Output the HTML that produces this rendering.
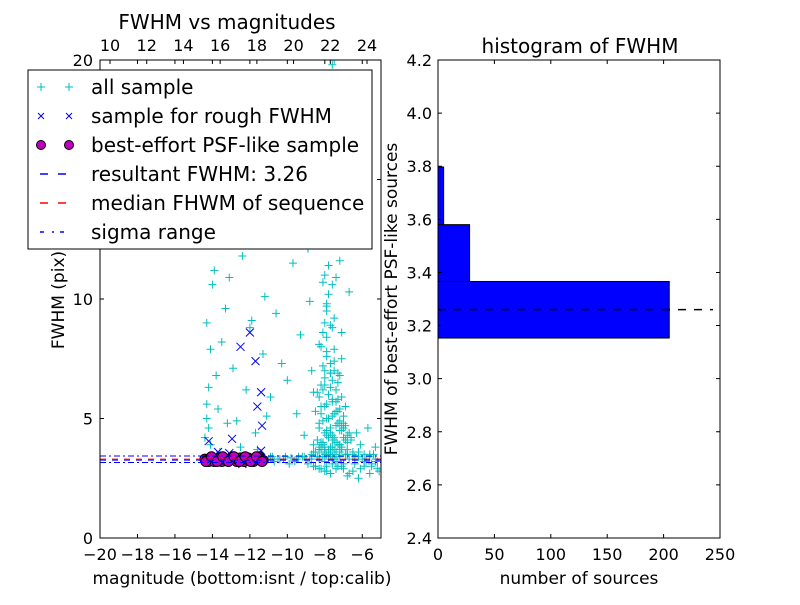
<!DOCTYPE html>
<html><head><meta charset="utf-8"><style>
html,body{margin:0;padding:0;background:#fff}
svg text{font-family:"DejaVu Sans","Liberation Sans",sans-serif;fill:#000}
</style></head><body>
<svg id="c" width="800" height="600" xmlns="http://www.w3.org/2000/svg">
<rect width="800" height="600" fill="#fff"/>
<g id="left"></g>
<g id="right"></g>
</svg>
<script>
// ---- left panel data ----
const allSampleMag = [-14.4,-14.3,-14.2,-14.1,-14.3,-14.0,-13.9,-14.2,-14.3,-13.8,-14.1,-13.7,-13.5,-13.3,-13.1,-12.9,-12.7,-12.4,-12.2,-11.9,-11.7,-11.5,-11.3,-11.1,-13.6,-13.2,-12.8,-12.5,-12.0,-11.6,-11.2,-10.9,-10.6,-10.3,-10.0,-9.7,-9.5,-9.3,-9.1,-8.9,-8.8,-8.7,-8.6,-8.5,-8.4,-8.3,-8.2,-8.1,-8.0,-7.9,-7.8,-7.7,-7.6,-7.5,-7.4,-7.3,-7.2,-7.1,-7.0,-6.9,-6.8,-6.7,-6.6,-6.5,-6.3,-6.1,-5.9,-5.7,-5.5,-5.3,-5.1,
-8.5,-8.4,-8.3,-8.2,-8.1,-8.0,-7.9,-7.8,-7.7,-7.6,-7.5,-7.4,-7.3,-7.2,-7.1,-7.0,-8.6,-8.3,-8.1,-7.9,-7.7,-7.5,-7.3,-7.1,-8.2,-8.0,-7.8,-7.6,-7.4,-7.2,-8.4,-8.0,-7.6,-7.8,-7.5,-8.1,-7.9,-7.7,-8.2,-7.6,
-8.9,-8.6,-8.3,-8.0,-7.7,-7.4,-7.1,-6.8,-6.5,-6.2,-5.9,-5.6,-5.3,-9.2,-8.8,-8.4,-8.0,-7.6,-7.2,-6.8,-6.4,-6.0,-5.6,-5.2,
-14.2,-14.0,-13.6,-13.4,-13.0,-12.6,-12.3,-12.0,-11.4,-10.8,-10.2,-9.8,-9.4,-9.0,-8.7,-8.3,-8.0,-7.8,-7.5,-7.2,-6.9,-6.7,-9.6,-9.9,-10.4,-10.7,-11.0,-8.2,-7.9,-7.6,-7.8,-8.1,-7.4,-7.7,-8.0,-7.3,-6.6,-6.2,-5.8,-5.4,
-8.3,-8.1,-7.9,-7.7,-7.5,-7.3,-7.1,-6.9,-8.2,-8.0,-7.8,-7.6,-7.4,-7.2,-7.0,-6.8,-8.4,-8.2,-8.0,-7.8,-7.6,-7.4,-7.2,-7.0,-8.1,-7.9,-7.7,-7.5,-7.3,-7.1,-6.9,-6.7,-8.3,-7.9,-7.5,-7.1,-8.0,-7.6,-7.2,-6.8,
-8.5,-8.2,-7.9,-7.6,-7.3,-7.0,-6.7,-6.4,-6.1,-5.8,-5.5,-5.2,-8.6,-8.3,-8.0,-7.7,-7.4,-7.1,-6.8,-6.5,-6.2,-5.9,-5.6,-5.3,-9.5,-9.1,-8.7,-10.1,-10.5,-10.9,
-8.0,-7.8,-7.6,-7.4,-7.9,-7.7,-7.5,-8.1,-7.3,-7.8,-7.6,-8.2,-7.4,-7.0,-7.7,-7.9,-8.3,-7.5,-7.2,-8.0,
-7.9,-7.8,-7.7,-8.0,-7.6,-7.9,-7.8,-7.7];
const allSampleFwhm = [4.2,5.0,6.3,7.9,9.0,10.6,11.2,4.6,5.6,6.8,3.9,5.4,8.2,9.6,10.9,7.1,4.9,11.8,6.2,9.1,4.4,13.0,7.7,5.1,3.6,4.8,12.6,3.8,8.8,3.7,10.1,5.9,9.4,7.3,6.6,11.5,5.2,8.5,4.3,12.1,9.9,7.0,6.1,5.3,13.6,4.6,8.0,10.7,6.4,5.0,11.4,7.3,4.1,9.2,5.7,6.9,3.9,8.6,4.8,5.5,3.7,10.3,4.2,3.5,4.4,3.9,3.2,4.6,3.0,3.8,2.8,
3.6,4.1,4.8,5.5,6.2,7.0,7.8,5.0,4.4,6.6,5.2,4.0,5.8,4.5,3.8,4.2,3.9,5.9,8.6,9.7,6.9,7.4,5.3,4.7,12.4,14.2,15.8,13.1,10.9,11.6,17.3,18.6,19.8,16.4,20.0,4.9,5.6,6.3,3.7,4.3,
3.1,3.0,2.9,2.8,2.7,2.9,3.0,2.6,2.8,2.5,3.0,2.7,3.2,3.4,3.3,3.4,3.5,3.4,3.6,3.5,3.4,3.3,3.5,3.2,
3.35,3.3,3.4,3.3,3.35,3.3,3.4,3.3,3.35,3.4,3.3,3.35,3.4,3.3,3.5,3.4,3.6,3.5,3.7,3.4,3.5,3.3,3.2,3.1,3.3,3.2,3.3,4.0,4.5,5.1,4.2,3.9,4.7,3.8,4.4,3.9,4.1,3.6,3.3,3.5,
3.8,4.0,4.3,4.6,4.2,4.8,4.5,4.1,5.2,5.5,5.0,5.8,5.3,4.9,4.6,4.3,6.1,6.4,6.7,6.0,5.7,6.2,5.4,5.1,7.2,7.6,6.9,7.0,6.5,5.9,4.7,4.4,8.1,8.4,7.9,7.5,9.0,8.8,6.8,4.0,
3.0,2.9,2.8,3.1,3.0,2.9,2.7,3.1,2.9,3.2,3.1,2.9,3.6,3.7,3.8,3.5,3.6,3.7,3.5,3.6,3.4,3.5,3.4,3.3,3.3,3.4,3.3,3.4,3.3,3.4,
3.2,3.3,3.4,3.2,3.5,3.6,3.3,3.4,3.2,3.7,3.8,3.9,3.5,3.1,3.6,3.0,3.3,4.1,3.9,3.7,
9.5,10.2,8.9,11.0,10.6,9.8,12.8,14.6];
const roughMag = [-12.0,-12.5,-11.7,-11.4,-11.6,-11.35,-14.2,-12.95,-11.4,-13.7,-13.1,-14.0,-12.4];
const roughFwhm = [8.6,8.0,7.4,6.1,5.5,4.7,4.05,4.15,3.65,3.6,3.55,3.2,3.1];
const psfMag = [-14.4,-14.3,-14.2,-14.1,-14.0,-13.9,-13.8,-13.7,-13.6,-13.5,-13.4,-13.3,-13.2,-13.1,-13.0,-12.9,-12.8,-12.7,-12.6,-12.5,-12.4,-12.3,-12.2,-12.1,-12.0,-11.9,-11.8,-11.7,-11.6,-11.5,-11.4,-11.3,-14.35,-14.05,-13.75,-13.45,-13.15,-12.85,-12.55,-12.25,-11.95,-11.65,-11.35];
const psfFwhm = [3.3,3.25,3.2,3.35,3.3,3.2,3.3,3.25,3.35,3.2,3.3,3.3,3.25,3.3,3.35,3.4,3.3,3.2,3.25,3.35,3.3,3.2,3.3,3.35,3.25,3.3,3.2,3.35,3.3,3.4,3.3,3.25,3.2,3.4,3.2,3.4,3.2,3.4,3.2,3.4,3.2,3.4,3.2];
const resultFwhm = 3.26, medianFwhm = 3.30, sigmaLo = 3.16, sigmaHi = 3.43;
const xTicks = [-20,-18,-16,-14,-12,-10,-8,-6];
const yTicks = [0,5,10,15,20];
const topTicks = [10,12,14,16,18,20,22,24];
// ---- right panel data ----
const binEdges = [3.153,3.366,3.58,3.797];
const binCounts = [205,28,5];
const hXTicks = [0,50,100,150,200,250];
const hYTicks = [2.4,2.6,2.8,3.0,3.2,3.4,3.6,3.8,4.0,4.2];

const NS="http://www.w3.org/2000/svg";
function mk(p,t,a){const e=document.createElementNS(NS,t);for(const k in a)e.setAttribute(k,a[k]);p.appendChild(e);return e;}
const L=document.getElementById('left'), R=document.getElementById('right');
const lx0=100,lx1=381,ly0=60,ly1=538;
const xs=m=>lx0+(m+20)/15*(lx1-lx0);
const ys=f=>ly1-f/20*(ly1-ly0);
const xtop=c=>110+(c-10)/14*(367-110);
mk(L,'rect',{x:lx0,y:ly0,width:lx1-lx0,height:ly1-ly0,fill:'#fff'});
const clip=mk(L,'clipPath',{id:'lc'});mk(clip,'rect',{x:lx0,y:ly0,width:lx1-lx0,height:ly1-ly0});
const pg=mk(L,'g',{'clip-path':'url(#lc)'});


for(let i=0;i<allSampleMag.length;i++){
 const x=xs(allSampleMag[i]),y=ys(allSampleFwhm[i]);
 const p=mk(pg,'path',{d:`M${x-4},${y}H${x+4}M${x},${y-4}V${y+4}`,stroke:'#00bfbf','stroke-width':1});
 
 
}
for(let i=0;i<roughMag.length;i++){
 const x=xs(roughMag[i]),y=ys(roughFwhm[i]);
 const p=mk(pg,'path',{d:`M${x-4},${y-4}L${x+4},${y+4}M${x-4},${y+4}L${x+4},${y-4}`,stroke:'#0000ff','stroke-width':1});
 
 
}
for(let i=0;i<psfMag.length;i++){
 const c=mk(pg,'circle',{cx:xs(psfMag[i]),cy:ys(psfFwhm[i]),r:5,fill:'#bf00bf',stroke:'#000','stroke-width':1});
 
 
}
[[sigmaLo,'#0000ff','6,3,2,3'],[sigmaHi,'#0000ff','6,3,2,3'],[medianFwhm,'#ff0000','6,6'],[resultFwhm,'#0000ff','6,6']].forEach(([v,c,d])=>{
 const l=mk(pg,'line',{x1:lx0,x2:lx1,y1:ys(v),y2:ys(v),stroke:c,'stroke-width':1,'stroke-dasharray':d});
 
 
});
mk(L,'rect',{x:lx0,y:ly0,width:lx1-lx0,height:ly1-ly0,fill:'none',stroke:'#000','stroke-width':1});
xTicks.forEach(t=>{const x=xs(t);mk(L,'path',{d:`M${x},${ly1}v-4M${x},${ly0}v4`,stroke:'#000'});
 const tx=mk(L,'text',{x:x,y:560,'font-size':16,'text-anchor':'middle'});tx.textContent='\u2212'+Math.abs(t);
 });
yTicks.forEach(t=>{const y=ys(t);mk(L,'path',{d:`M${lx0},${y}h4M${lx1},${y}h-4`,stroke:'#000'});
 const tx=mk(L,'text',{x:93,y:y+6,'font-size':16,'text-anchor':'end'});tx.textContent=t;
 });
topTicks.forEach(t=>{const x=xtop(t);mk(L,'path',{d:`M${x},${ly0}v4`,stroke:'#000'});
 const tx=mk(L,'text',{x:x,y:51,'font-size':16,'text-anchor':'middle'});tx.textContent=t;
 });
const rx0=438,rx1=720;
const hx=n=>rx0+n/250*(rx1-rx0);
const hy=v=>ly1-(v-2.4)/1.8*(ly1-ly0);
mk(R,'rect',{x:rx0,y:ly0,width:rx1-rx0,height:ly1-ly0,fill:'#fff'});
for(let i=0;i<binCounts.length;i++){
 const b=mk(R,'rect',{x:hx(0),y:hy(binEdges[i+1]),width:hx(binCounts[i])-hx(0),height:hy(binEdges[i])-hy(binEdges[i+1]),fill:'#0000ff',stroke:'#000','stroke-width':1});
 
 
}
const hl=mk(R,'line',{x1:rx0,x2:713,y1:hy(resultFwhm),y2:hy(resultFwhm),stroke:'#000','stroke-width':1.5,'stroke-dasharray':'8,8'});


mk(R,'rect',{x:rx0,y:ly0,width:rx1-rx0,height:ly1-ly0,fill:'none',stroke:'#000'});
hXTicks.forEach(t=>{const x=hx(t);mk(R,'path',{d:`M${x},${ly1}v-4M${x},${ly0}v4`,stroke:'#000'});
 const tx=mk(R,'text',{x:x,y:560,'font-size':16,'text-anchor':'middle'});tx.textContent=t;
 });
hYTicks.forEach(t=>{const y=hy(t);mk(R,'path',{d:`M${rx0},${y}h4M${rx1},${y}h-4`,stroke:'#000'});
 const tx=mk(R,'text',{x:432,y:y+6,'font-size':16,'text-anchor':'end'});tx.textContent=t.toFixed(1);
 });
</script>
<svg width="800" height="600" style="position:absolute;left:0;top:0" xmlns="http://www.w3.org/2000/svg">
<text x="227" y="29" font-size="20" text-anchor="middle">FWHM vs magnitudes</text>
<text x="580" y="53" font-size="20" text-anchor="middle">histogram of FWHM</text>
<text x="242" y="584" font-size="17" text-anchor="middle">magnitude (bottom:isnt / top:calib)</text>
<text x="579" y="584" font-size="17" text-anchor="middle">number of sources</text>
<text transform="translate(64,300) rotate(-90)" font-size="17" text-anchor="middle">FWHM (pix)</text>
<text transform="translate(397,299) rotate(-90)" font-size="17" text-anchor="middle">FWHM of best-effort PSF-like sources</text>
<g>
<rect x="28" y="70" width="344" height="179" fill="#fff" stroke="#000" stroke-width="1"/>
<path d="M37,87h8M41,83v8M65,87h8M69,83v8" stroke="#00bfbf"/>
<path d="M38,113l6,6M38,119l6,-6M66,113l6,6M66,119l6,-6" stroke="#0000ff"/>
<circle cx="41" cy="145" r="4.5" fill="#bf00bf" stroke="#000"/><circle cx="69" cy="145" r="4.5" fill="#bf00bf" stroke="#000"/>
<path d="M40,174h8M58,174h8" stroke="#0000ff" stroke-width="1.5"/>
<path d="M40,203h8M58,203h8" stroke="#ff0000" stroke-width="1.5"/>
<path d="M40,232h4M52,232h2M60,232h4" stroke="#0000ff" stroke-width="1.5"/>
<text x="91" y="94" font-size="20">all sample</text>
<text x="91" y="123" font-size="20">sample for rough FWHM</text>
<text x="91" y="152" font-size="20">best-effort PSF-like sample</text>
<text x="91" y="181" font-size="20">resultant FWHM: 3.26</text>
<text x="91" y="210" font-size="20">median FHWM of sequence</text>
<text x="91" y="239" font-size="20">sigma range</text>
</g>
</svg>
</body></html>
